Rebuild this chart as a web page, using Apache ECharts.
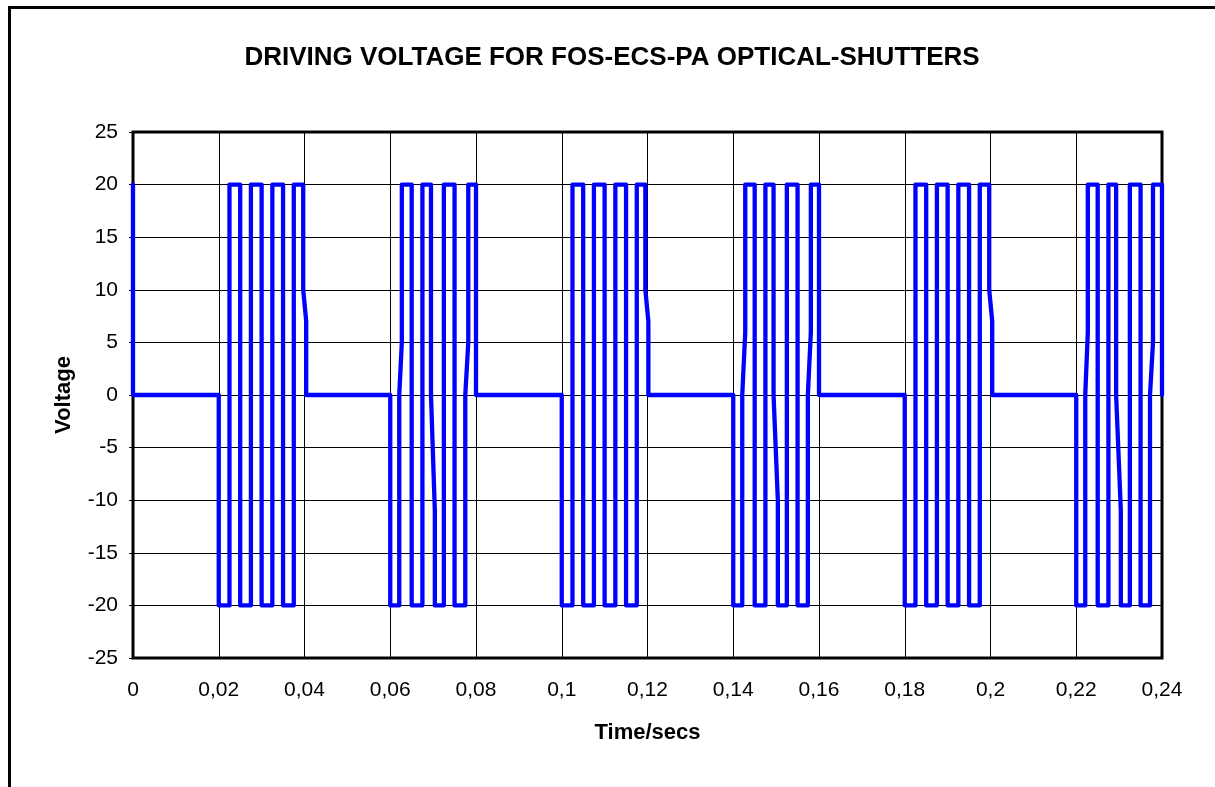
<!DOCTYPE html>
<html>
<head>
<meta charset="utf-8">
<title>Driving voltage for FOS-ECS-PA optical shutters</title>
<script src="https://cdn.jsdelivr.net/npm/echarts@6/dist/echarts.min.js"></script>
<style>
  html, body { margin: 0; padding: 0; background: #fff; overflow: hidden; }
  #frame {
    position: absolute; left: 8px; top: 6px;
    width: 1400px; height: 1000px;
    border-left: 3px solid #000; border-top: 3px solid #000;
    box-sizing: border-box;
  }
  #chart { position: absolute; left: 0; top: 0; width: 1215px; height: 787px; }
</style>
</head>
<body>
<div id="frame"></div>
<div id="chart"></div>
<script>
// Axis tick labels (decimal comma)
const xTickLabels = ['0', '0,02', '0,04', '0,06', '0,08', '0,1', '0,12', '0,14', '0,16', '0,18', '0,2', '0,22', '0,24'];
const yTickLabels = ['-25', '-20', '-15', '-10', '-5', '0', '5', '10', '15', '20', '25'];

// Waveform samples as [time (s), voltage (V)]
const leadIn = [[0, 20], [0, 0], [0.02, 0]];

const burst1 = [
  [0.02, -20], [0.0225, -20], [0.0225, 20], [0.025, 20], [0.025, -20], [0.0275, -20],
  [0.0275, 20], [0.03, 20], [0.03, -20], [0.0325, -20], [0.0325, 20], [0.035, 20],
  [0.035, -20], [0.0375, -20], [0.0375, 20], [0.0397, 20], [0.0397, 10], [0.0404, 7],
  [0.0404, 0], [0.06, 0]
];

const burst2 = [
  [0.06, -20], [0.0621, -20], [0.0621, 0], [0.0627, 5], [0.0627, 20], [0.065, 20],
  [0.065, -20], [0.0675, -20], [0.0675, 20], [0.0695, 20], [0.0695, 0], [0.0704, -11],
  [0.0704, -20], [0.0725, -20], [0.0725, 20], [0.075, 20], [0.075, -20], [0.0775, -20],
  [0.0775, 0], [0.0782, 5], [0.0782, 20], [0.08, 20], [0.08, 0], [0.1, 0]
];

const burst3 = [
  [0.1, -20], [0.1025, -20], [0.1025, 20], [0.105, 20], [0.105, -20], [0.1075, -20],
  [0.1075, 20], [0.11, 20], [0.11, -20], [0.1125, -20], [0.1125, 20], [0.115, 20],
  [0.115, -20], [0.1175, -20], [0.1175, 20], [0.1195, 20], [0.1195, 10], [0.1202, 7],
  [0.1202, 0], [0.14, 0]
];

const burst4 = [
  [0.14, -20], [0.1421, -20], [0.1421, 0], [0.1428, 6], [0.1428, 20], [0.145, 20],
  [0.145, -20], [0.1475, -20], [0.1475, 20], [0.1494, 20], [0.1494, 0], [0.1504, -10],
  [0.1504, -20], [0.1525, -20], [0.1525, 20], [0.155, 20], [0.155, -20], [0.1574, -20],
  [0.1574, 0], [0.1581, 6], [0.1581, 20], [0.16, 20], [0.16, 0], [0.18, 0]
];

const burst5 = [
  [0.18, -20], [0.1825, -20], [0.1825, 20], [0.185, 20], [0.185, -20], [0.1875, -20],
  [0.1875, 20], [0.19, 20], [0.19, -20], [0.1925, -20], [0.1925, 20], [0.195, 20],
  [0.195, -20], [0.1975, -20], [0.1975, 20], [0.1997, 20], [0.1997, 10], [0.2004, 7],
  [0.2004, 0], [0.22, 0]
];

const burst6 = [
  [0.22, -20], [0.2221, -20], [0.2221, 0], [0.2227, 6], [0.2227, 20], [0.225, 20],
  [0.225, -20], [0.2275, -20], [0.2275, 20], [0.2293, 20], [0.2293, 0], [0.2304, -11],
  [0.2304, -20], [0.2325, -20], [0.2325, 20], [0.235, 20], [0.235, -20], [0.2372, -20],
  [0.2372, 0], [0.2379, 5], [0.2379, 20], [0.24, 20], [0.24, 0]
];

const waveform = [].concat(leadIn, burst1, burst2, burst3, burst4, burst5, burst6);

const FONT = '"Liberation Sans", Arial, sans-serif';

const chart = echarts.init(document.getElementById('chart'), null, { renderer: 'canvas' });
chart.setOption({
  backgroundColor: 'transparent',
  animation: false,
  title: {
    text: 'DRIVING VOLTAGE FOR FOS-ECS-PA OPTICAL-SHUTTERS',
    left: 607,
    top: 40,
    textAlign: 'center',
    textStyle: { fontFamily: FONT, fontSize: 26, fontWeight: 'bold', color: '#000' }
  },
  grid: {
    left: 133, right: 53, top: 132, bottom: 129,
    show: true, borderColor: '#000', borderWidth: 3, backgroundColor: 'transparent'
  },
  xAxis: {
    type: 'value',
    min: 0, max: 0.24, interval: 0.02,
    name: 'Time/secs',
    nameLocation: 'middle',
    nameGap: 64,
    nameTextStyle: { fontFamily: FONT, fontSize: 22, fontWeight: 'bold', color: '#000' },
    axisLine: { show: false },
    axisTick: { show: false },
    splitLine: { show: true, lineStyle: { color: '#000', width: 1 } },
    axisLabel: {
      fontFamily: FONT, fontSize: 21, color: '#000', margin: 22,
      formatter: v => xTickLabels[Math.round(v / 0.02)]
    }
  },
  yAxis: {
    type: 'value',
    min: -25, max: 25, interval: 5,
    name: 'Voltage',
    nameLocation: 'middle',
    nameGap: 58,
    nameTextStyle: { fontFamily: FONT, fontSize: 22, fontWeight: 'bold', color: '#000' },
    axisLine: { show: false },
    axisTick: { show: true, length: 4, lineStyle: { color: '#000', width: 1 } },
    splitLine: { show: true, lineStyle: { color: '#000', width: 1 } },
    axisLabel: {
      fontFamily: FONT, fontSize: 21, color: '#000', margin: 15,
      formatter: v => yTickLabels[Math.round((v + 25) / 5)]
    }
  },
  series: [{
    type: 'line',
    data: waveform,
    showSymbol: false,
    clip: false,
    lineStyle: { color: '#0000ff', width: 4.3, cap: 'round', join: 'round' },
    z: 5
  }]
});
</script>
</body>
</html>
